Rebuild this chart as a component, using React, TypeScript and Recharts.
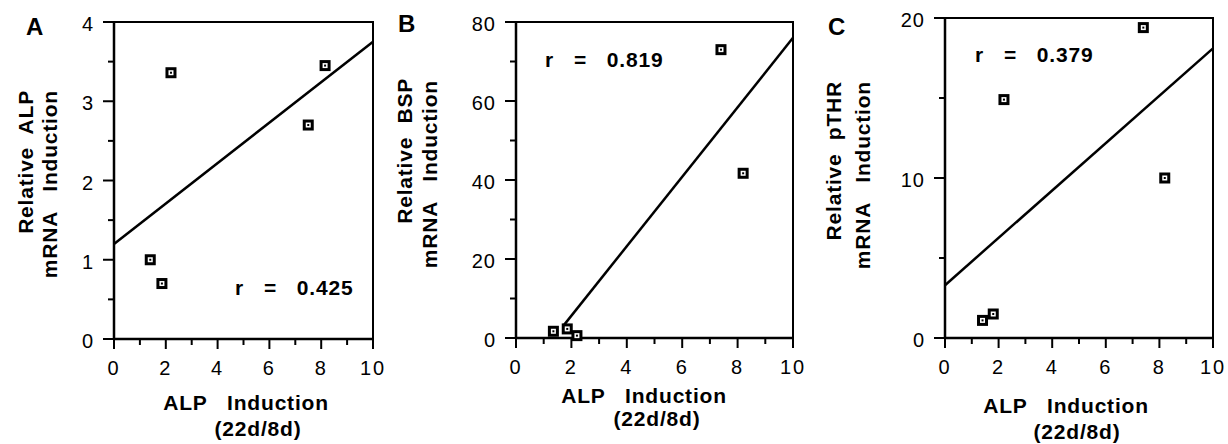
import { ReferenceArea, ReferenceLine, Scatter, ScatterChart, XAxis, YAxis } from "recharts";

const FONT = "'Liberation Sans', Arial, Helvetica, sans-serif";

// panel A: relative ALP mRNA
const alpX = [2.2, 8.15, 7.5, 1.4, 1.85];
const alpY = [3.36, 3.45, 2.7, 1.0, 0.7];
const alpFit = [
  { x: 0, y: 1.2 },
  { x: 10, y: 3.75 },
];

// panel B: relative BSP mRNA
const bspX = [7.4, 8.2, 1.35, 1.85, 2.2];
const bspY = [73, 41.7, 1.7, 2.3, 0.6];
const bspFit = [
  { x: 1.7, y: 3 },
  { x: 10, y: 76 },
];

// panel C: relative pTHR mRNA
const pthrX = [7.4, 2.2, 8.2, 1.4, 1.8];
const pthrY = [19.4, 14.9, 10.0, 1.1, 1.5];
const pthrFit = [
  { x: 0, y: 3.3 },
  { x: 10, y: 18.1 },
];

const xTicks = [0, 1, 2, 3, 4, 5, 6, 7, 8, 9, 10];
const alpTicks = [0, 0.5, 1, 1.5, 2, 2.5, 3, 3.5, 4];
const bspTicks = [0, 10, 20, 30, 40, 50, 60, 70, 80];
const pthrTicks = [0, 5, 10, 15, 20];

const zip = (xs: number[], ys: number[]) => xs.map((x, i) => ({ x, y: ys[i] }));

function Marker(props: any) {
  const { cx, cy } = props;
  if (cx == null || cy == null) return null;
  return (
    <g>
      <rect x={cx - 4} y={cy - 4} width={8} height={8} fill="#fff" stroke="#000" strokeWidth={3} />
      <rect x={cx - 1} y={cy - 1} width={2} height={2} fill="#000" />
    </g>
  );
}

const yTick = (step: number) => (props: any) => {
  const { x, y, payload } = props;
  const major = Math.abs(payload.value / step - Math.round(payload.value / step)) < 1e-6;
  const len = major ? 11 : 6;
  return (
    <g>
      <line x1={x - len} x2={x} y1={y} y2={y} stroke="#000" strokeWidth={2} />
      {major && (
        <text x={x - 20} y={y + 2} dy="0.36em" textAnchor="end" fontSize={20} fontFamily={FONT} fill="#000" letterSpacing={1}>
          {payload.value}
        </text>
      )}
    </g>
  );
};

const xTick = (props: any) => {
  const { x, y, payload } = props;
  const major = payload.value % 2 === 0;
  const len = major ? 10 : 6;
  return (
    <g>
      <line x1={x} x2={x} y1={y} y2={y + len} stroke="#000" strokeWidth={2} />
      {major && (
        <text x={x} y={y + 36} textAnchor="middle" fontSize={20} fontFamily={FONT} fill="#000" letterSpacing={2}>
          {payload.value}
        </text>
      )}
    </g>
  );
};

interface PanelProps {
  left: number;
  width: number;
  margin: { top: number; right: number; bottom: number; left: number };
  points: { x: number; y: number }[];
  fit: { x: number; y: number }[];
  yMax: number;
  yTicks: number[];
  majorStep: number;
}

function Panel({ left, width, margin, points, fit, yMax, yTicks, majorStep }: PanelProps) {
  return (
    <div style={{ position: "absolute", left, top: 0 }}>
      <ScatterChart width={width} height={444} margin={margin}>
        <XAxis
          type="number"
          dataKey="x"
          domain={[0, 10]}
          ticks={xTicks}
          interval={0}
          tickSize={0}
          tickMargin={0}
          height={40}
          axisLine={{ stroke: "#000", strokeWidth: 2.5 }}
          tick={xTick}
        />
        <YAxis
          type="number"
          dataKey="y"
          domain={[0, yMax]}
          ticks={yTicks}
          interval={0}
          tickSize={0}
          tickMargin={0}
          width={50}
          axisLine={{ stroke: "#000", strokeWidth: 2.5 }}
          tick={yTick(majorStep)}
        />
        <ReferenceArea x1={0} x2={10} y1={0} y2={yMax} fill="none" stroke="#000" strokeWidth={2} />
        <ReferenceLine segment={fit} stroke="#000" strokeWidth={2.5} />
        <Scatter data={points} shape={Marker} isAnimationActive={false} />
      </ScatterChart>
    </div>
  );
}

// bold label text; keeps the wide gaps between words
function T({ children, ...rest }: any) {
  return (
    <text
      xmlSpace="preserve"
      fontFamily={FONT}
      fontWeight={700}
      fontSize={21}
      letterSpacing={0.8}
      fill="#000"
      style={{ whiteSpace: "pre" }}
      {...rest}
    >
      {children}
    </text>
  );
}

export default function App() {
  return (
    <div style={{ position: "absolute", left: 0, top: 0, width: 1228, height: 444, background: "#fff" }}>
      <Panel
        left={0}
        width={400}
        margin={{ top: 22, right: 27, bottom: 65, left: 64 }}
        points={zip(alpX, alpY)}
        fit={alpFit}
        yMax={4}
        yTicks={alpTicks}
        majorStep={1}
      />
      <Panel
        left={400}
        width={410}
        margin={{ top: 22, right: 17, bottom: 66, left: 66 }}
        points={zip(bspX, bspY)}
        fit={bspFit}
        yMax={80}
        yTicks={bspTicks}
        majorStep={20}
      />
      <Panel
        left={810}
        width={418}
        margin={{ top: 18, right: 15, bottom: 66, left: 85 }}
        points={zip(pthrX, pthrY)}
        fit={pthrFit}
        yMax={20}
        yTicks={pthrTicks}
        majorStep={10}
      />
      <svg width={1228} height={444} style={{ position: "absolute", left: 0, top: 0, pointerEvents: "none" }}>
        {/* panel letters */}
        <T x={26} y={35} fontSize={24}>A</T>
        <T x={398} y={32} fontSize={24}>B</T>
        <T x={828} y={35} fontSize={24}>C</T>

        {/* correlation coefficients */}
        <T x={235} y={295}>{"r   =   0.425"}</T>
        <T x={545} y={67}>{"r   =   0.819"}</T>
        <T x={975} y={62}>{"r   =   0.379"}</T>

        {/* x titles */}
        <T x={246} y={410} textAnchor="middle">{"ALP   Induction"}</T>
        <T x={258} y={436} textAnchor="middle">(22d/8d)</T>
        <T x={644} y={403} textAnchor="middle">{"ALP   Induction"}</T>
        <T x={657} y={426} textAnchor="middle">(22d/8d)</T>
        <T x={1066} y={413} textAnchor="middle">{"ALP   Induction"}</T>
        <T x={1077} y={439} textAnchor="middle">(22d/8d)</T>

        {/* y titles */}
        <T transform="translate(33,90) rotate(-90)" textAnchor="end">{"Relative  ALP"}</T>
        <T transform="translate(57,90) rotate(-90)" textAnchor="end">{"mRNA   Induction"}</T>
        <T transform="translate(412,78) rotate(-90)" textAnchor="end">{"Relative  BSP"}</T>
        <T transform="translate(437,80) rotate(-90)" textAnchor="end">{"mRNA   Induction"}</T>
        <T transform="translate(841,81) rotate(-90)" textAnchor="end">{"Relative  pTHR"}</T>
        <T transform="translate(870,81) rotate(-90)" textAnchor="end">{"mRNA   Induction"}</T>
      </svg>
    </div>
  );
}
